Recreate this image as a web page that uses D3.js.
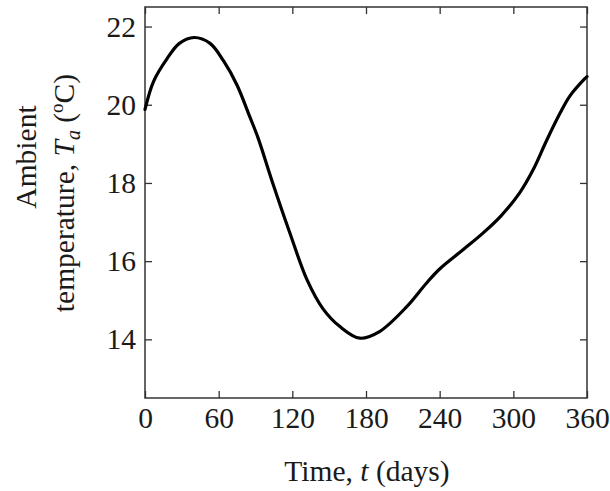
<!DOCTYPE html>
<html><head><meta charset="utf-8">
<script src="https://cdn.jsdelivr.net/npm/d3@7"></script>
<style>body{margin:0;background:#fff}svg{display:block}text{font-family:"Liberation Serif","Times New Roman",serif;fill:#1a1a1a}</style>
</head><body>
<script>
const days  = [0, 7, 18, 28, 40, 53, 64, 75, 85, 92, 104, 118, 132, 145, 159, 175, 191, 213, 229, 240, 259, 275, 290, 305, 316, 327, 338, 346, 358, 360];
const temps = [19.88, 20.6, 21.18, 21.57, 21.72, 21.57, 21.12, 20.5, 19.72, 19.16, 18.0, 16.72, 15.52, 14.78, 14.32, 14.03, 14.2, 14.83, 15.43, 15.8, 16.29, 16.71, 17.16, 17.74, 18.33, 19.08, 19.78, 20.22, 20.66, 20.72];
const xTicks = [0, 60, 120, 180, 240, 300, 360];
const yTicks = [14, 16, 18, 20, 22];

const W = 610, H = 491;
const m = {left:145, top:7, right:23, bottom:93};
const iw = W - m.left - m.right, ih = H - m.top - m.bottom;
const svg = d3.select("body").append("svg").attr("width", W).attr("height", H);
const g = svg.append("g").attr("transform", `translate(${m.left},${m.top})`);
const x = d3.scaleLinear().domain([0, 360]).range([0, iw]);
const y = d3.scaleLinear().domain([12.5, 22.5]).range([ih, 0]);

const FS = "29.5px";
const tl = 7;
function styleAxis(sel, showText){
  sel.select(".domain").remove();
  sel.selectAll(".tick line").attr("stroke", "#333").attr("stroke-width", 1.3);
  if (!showText) sel.selectAll(".tick text").remove();
  else sel.selectAll(".tick text").style("font-size", FS).attr("fill", "#1a1a1a");
}
g.append("g").attr("transform", `translate(0,${ih})`)
  .call(d3.axisBottom(x).tickValues(xTicks).tickSizeInner(-tl).tickSizeOuter(0).tickPadding(9))
  .call(s => styleAxis(s, true));
g.append("g")
  .call(d3.axisTop(x).tickValues(xTicks).tickSizeInner(-tl).tickSizeOuter(0))
  .call(s => styleAxis(s, false));
g.append("g")
  .call(d3.axisLeft(y).tickValues(yTicks).tickSizeInner(-tl).tickSizeOuter(0).tickPadding(9))
  .call(s => styleAxis(s, true));
g.append("g").attr("transform", `translate(${iw},0)`)
  .call(d3.axisRight(y).tickValues(yTicks).tickSizeInner(-tl).tickSizeOuter(0))
  .call(s => styleAxis(s, false));

g.append("rect").attr("width", iw).attr("height", ih)
  .attr("fill", "none").attr("stroke", "#333").attr("stroke-width", 1.5);

const pts = days.map((d, i) => [d, temps[i]]);
g.append("path").datum(pts)
  .attr("fill", "none").attr("stroke", "#000").attr("stroke-width", 3.2)
  .attr("stroke-linejoin", "round").attr("stroke-linecap", "round")
  .attr("d", d3.line().x(d => x(d[0])).y(d => y(d[1])).curve(d3.curveCatmullRom.alpha(0.5)));

// x label
const xl = svg.append("text").attr("x", 367).attr("y", 481).attr("text-anchor", "middle").style("font-size", FS);
xl.append("tspan").text("Time, ");
xl.append("tspan").attr("font-style", "italic").text("t");
xl.append("tspan").text(" (days)");

// y label lines
svg.append("text").attr("transform", "translate(36,157) rotate(-90)").attr("text-anchor", "middle")
  .style("font-size", FS).text("Ambient");
const yl = svg.append("text").attr("transform", "translate(74,193) rotate(-90)").attr("text-anchor", "middle")
  .style("font-size", FS);
yl.append("tspan").text("temperature, ");
yl.append("tspan").attr("font-style", "italic").text("T");
yl.append("tspan").attr("font-style", "italic").attr("dy", 6).style("font-size", "20px").text("a");
yl.append("tspan").attr("dy", -6).text(" (");
yl.append("tspan").attr("dy", -11).style("font-size", "19px").text("o");
yl.append("tspan").attr("dy", 11).text("C)");
</script>
</body></html>
